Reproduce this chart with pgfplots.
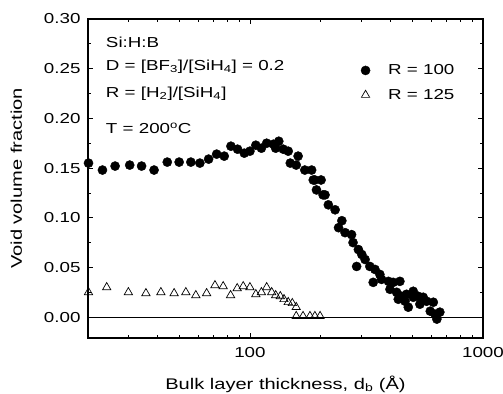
\documentclass[border=0pt]{standalone}
\usepackage{pgfplots}
\pgfplotsset{compat=1.18}
\usepackage{fontspec}
\setmainfont{Liberation Sans}[FakeStretch=1.3]
\begin{document}
\begin{tikzpicture}
\useasboundingbox (-88bp,-56bp) rectangle (415bp,338bp);
\begin{axis}[
  scale only axis, width=395bp, height=319bp,
  xmode=log, xmin=20.2, xmax=1000, ymin=-0.021, ymax=0.30,
  log basis x=10,
  xtick={100,1000}, xticklabels={100,1000},
  minor xtick={30,40,50,60,70,80,90,200,300,400,500,600,700,800,900},
  ytick={0,0.05,0.10,0.15,0.20,0.25,0.30},
  minor ytick={0.025,0.075,0.125,0.175,0.225,0.275},
  yticklabel style={xshift=-4bp, /pgf/number format/.cd, fixed, fixed zerofill, precision=2},
  /pgf/number format/assume math mode=true,
  tick align=inside, major tick length=5bp, minor tick length=3bp,
  tick style={black, line width=0.8pt},
  axis line style={line width=1.1pt},
  ticklabel style={font=\fontsize{14.5}{17}\selectfont},
  xticklabel style={yshift=-6bp},
  xlabel={Bulk layer thickness, d\textsubscript{b} (Å)},
  ylabel={Void volume fraction},
  label style={font=\fontsize{15.5}{18}\selectfont},
  xlabel style={yshift=-11bp},
  ylabel style={yshift=15bp},
  legend style={at={(rel axis cs:0.683,0.87)}, anchor=north west, draw=none, fill=none,
    font=\fontsize{14.5}{17}\selectfont, row sep=9bp},
  legend cell align=left,
]
\addplot[black, line width=0.8pt, forget plot] coordinates {(20.2,0) (1000,0)};
\addplot[only marks, mark=*, mark size=4.6pt, mark options={fill=black, draw=black}] coordinates {
(20.3,0.155) (23.3,0.148) (26.4,0.152) (30.5,0.153) (34.3,0.152) (38.8,0.148)
(44.2,0.156) (49.7,0.156) (55.8,0.156) (61,0.155) (66.5,0.159) (72,0.164)
(77.6,0.162) (82.9,0.172) (88.5,0.169) (94.6,0.165) (100,0.167) (106,0.173)
(112,0.170) (118,0.175) (126,0.174) (129,0.170) (133,0.177) (139,0.169)
(146,0.167) (149,0.155) (158,0.153) (161,0.162) (172,0.148) (184,0.148)
(187,0.138) (190,0.138) (193,0.128) (202,0.138) (206,0.123) (210,0.123)
(217,0.113) (232,0.108) (240,0.090) (248,0.097) (256,0.085) (273,0.083)
(277,0.075) (287,0.051) (292,0.068) (302,0.063) (312,0.058) (327,0.051)
(338,0.035) (344,0.048) (361,0.043) (367,0.038) (393,0.036) (399,0.028)
(412,0.035) (426,0.025) (433,0.018) (440,0.036) (448,0.021) (463,0.016)
(470,0.023) (478,0.010) (502,0.026) (502,0.020) (527,0.021) (536,0.013)
(554,0.020) (573,0.016) (594,0.006) (612,0.015) (622,0.003) (634,-0.002)
(653,0.005)
};
\addlegendentry{\hspace{16bp}R = 100}
\addplot[only marks, mark=triangle, mark size=4.8pt, mark options={draw=black, fill=white, line width=0.7pt}] coordinates {
(20.3,0.025) (24.3,0.030) (30.1,0.025) (35.8,0.024) (41.5,0.025) (47.3,0.024)
(53.1,0.025) (58.6,0.022) (65.2,0.024) (70.8,0.032) (76.8,0.031) (82.6,0.022)
(88.2,0.029) (93.6,0.031) (100,0.030) (106,0.023) (112,0.025) (118,0.030)
(124,0.025) (129,0.022) (135,0.021) (140,0.018) (146,0.015) (152,0.014)
(158,0.010) (158,0.001) (169,0.001) (181,0.001) (190,0.001) (200,0.001)
};
\addlegendentry{\hspace{16bp}R = 125}
\node[anchor=north west, align=left, font=\fontsize{14.5}{17}\selectfont, inner sep=0pt] at (rel axis cs:0.045,0.944)
  {Si:H:B\\[6bp] D = [BF\textsubscript{3}]/[SiH\textsubscript{4}] = 0.2\\[10bp] R = [H\textsubscript{2}]/[SiH\textsubscript{4}]\\[19bp] T = 200\textsuperscript{o}C};
\end{axis}
\end{tikzpicture}
\end{document}
